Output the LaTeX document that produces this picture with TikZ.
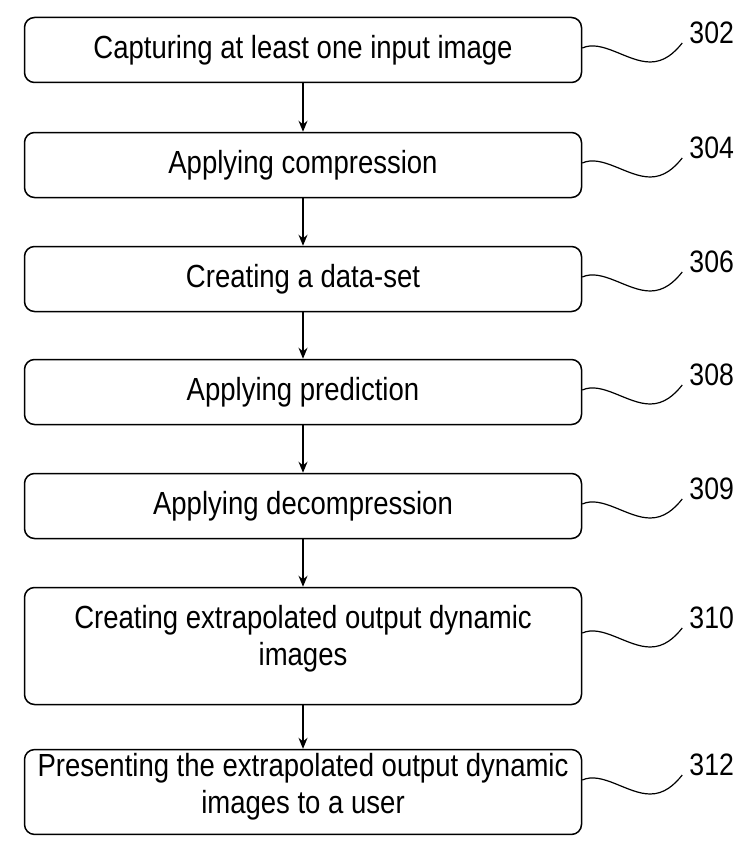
\documentclass[tikz,border=0pt]{standalone}
\usepackage{fontspec}
\setmainfont[FakeStretch=0.86]{Liberation Sans}
\usetikzlibrary{arrows.meta}
\begin{document}
\begin{tikzpicture}[x=1pt, y=-1pt, >={Stealth[length=11pt, width=9pt]},
    stepbox/.style={draw, line width=1.5pt, rounded corners=10pt, minimum width=557pt,
        minimum height=65pt, align=center, font=\fontsize{32}{37}\selectfont},
    squiggle/.style={line width=1.2pt},
    refnum/.style={anchor=south west, inner sep=0pt, xshift=7pt, yshift=-1pt,
        font=\fontsize{31}{31}\selectfont}]
    \useasboundingbox (0,0) rectangle (754,864);

    % boxes
    \node[stepbox] (capture) at (303, 50) {Capturing at least one input image};
    \node[stepbox] (compress) at (303, 165) {Applying compression};
    \node[stepbox] (dataset) at (303, 279) {Creating a data-set};
    \node[stepbox] (predict) at (303, 392) {Applying prediction};
    \node[stepbox] (decompress) at (303, 506) {Applying decompression};
    \node[stepbox, minimum height=117pt, text depth=22pt] (extrapolate) at (303, 646)
        {Creating extrapolated output dynamic\\images};
    \node[stepbox, minimum height=81pt, text depth=18pt] (present) at (303, 792)
        {Presenting the extrapolated output dynamic\\images to a user};

    % arrows
    \draw[->, line width=1.2pt] (capture) -- (compress);
    \draw[->, line width=1.2pt] (compress) -- (dataset);
    \draw[->, line width=1.2pt] (dataset) -- (predict);
    \draw[->, line width=1.2pt] (predict) -- (decompress);
    \draw[->, line width=1.2pt] (decompress) -- (extrapolate);
    \draw[->, line width=1.2pt] (extrapolate) -- (present);

    % reference numerals
    \foreach \n/\r/\dy in {capture/302/-2, compress/304/-2, dataset/306/-2, predict/308/-2,
        decompress/309/-2, extrapolate/310/-13, present/312/-12} {
        \draw[squiggle, shift={(\n.east)}] (0,\dy) .. controls (20,\dy-9) and (45,\dy+14) .. (68,\dy+14)
            .. controls (82,\dy+14) and (92,\dy+5) .. (100,\dy-5) coordinate (\n-end);
        \node[refnum] (r\r) at (\n-end) {\r};
    }
\end{tikzpicture}
\end{document}
